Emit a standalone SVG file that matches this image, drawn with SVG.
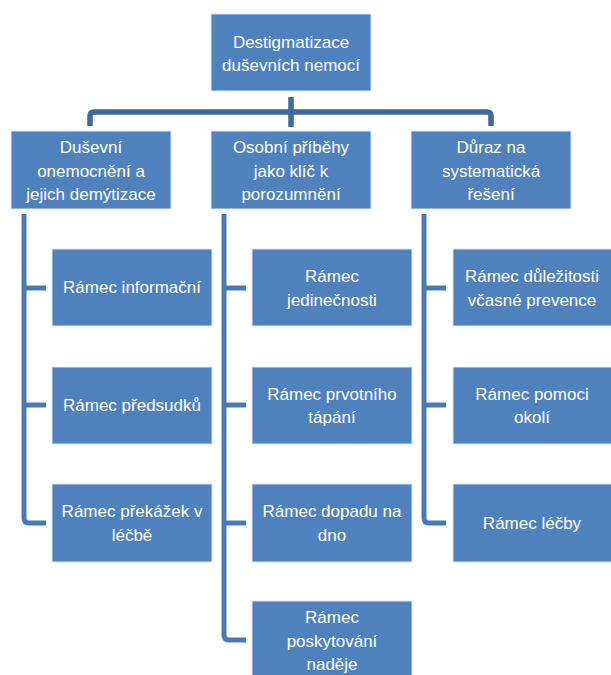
<svg xmlns="http://www.w3.org/2000/svg" width="611" height="675" viewBox="0 0 611 675">
<style>
.box{fill:#4F81BD;stroke:#DCE6F2;stroke-width:1}
.t{font-family:"Liberation Sans",Arial,sans-serif;font-size:17px;fill:#FFFFFF;text-anchor:middle}
.bus{fill:none;stroke:#3F6A9C;stroke-width:5.5;stroke-linejoin:round}
.sub{fill:none;stroke:#4A7AB4;stroke-width:5;stroke-linejoin:round}
</style>
<rect width="611" height="675" fill="#FFFFFF"/>
<g id="connectors">
<path class="bus" d="M291 97 V127"/>
<path class="bus" d="M90 126 V116 Q90 112 94 112 H487 Q491 112 491 116 V126"/>
<path class="sub" d="M24 214 V518 Q24 523 29 523 H46 M24 288 H46 M24 405 H46"/>
<path class="sub" d="M224 214 V635 Q224 640 229 640 H246 M224 288 H246 M224 405 H246 M224 523 H246"/>
<path class="sub" d="M424 214 V518 Q424 523 429 523 H446 M424 288 H446 M424 405 H446"/>
</g>
<g id="root"><rect class="box" x="211" y="14" width="160" height="77"/>
<text class="t" x="291" y="48">Destigmatizace</text><text class="t" x="291" y="71">duševních nemocí</text></g>
<g id="n1"><rect class="box" x="11" y="131" width="160" height="78"/>
<text class="t" x="91" y="153">Duševní</text><text class="t" x="91" y="176.5">onemocnění a</text><text class="t" x="91" y="200">jejich demýtizace</text></g>
<g id="n2"><rect class="box" x="211" y="131" width="160" height="78"/>
<text class="t" x="291" y="153">Osobní příběhy</text><text class="t" x="291" y="176.5">jako klíč k</text><text class="t" x="291" y="200">porozumnění</text></g>
<g id="n3"><rect class="box" x="411" y="131" width="160" height="78"/>
<text class="t" x="491" y="153">Důraz na</text><text class="t" x="491" y="176.5">systematická</text><text class="t" x="491" y="200">řešení</text></g>
<g id="n1a"><rect class="box" x="52" y="249" width="160" height="77"/><text class="t" x="132" y="293">Rámec informační</text></g>
<g id="n1b"><rect class="box" x="52" y="367" width="160" height="77"/><text class="t" x="132" y="410.5">Rámec předsudků</text></g>
<g id="n1c"><rect class="box" x="52" y="484" width="160" height="78"/><text class="t" x="132" y="517">Rámec překážek v</text><text class="t" x="132" y="540.5">léčbě</text></g>
<g id="n2a"><rect class="box" x="252" y="249" width="160" height="77"/><text class="t" x="332" y="282">Rámec</text><text class="t" x="332" y="305.5">jedinečnosti</text></g>
<g id="n2b"><rect class="box" x="252" y="367" width="160" height="77"/><text class="t" x="332" y="399.5">Rámec prvotního</text><text class="t" x="332" y="423">tápání</text></g>
<g id="n2c"><rect class="box" x="252" y="484" width="160" height="78"/><text class="t" x="332" y="517">Rámec dopadu na</text><text class="t" x="332" y="540.5">dno</text></g>
<g id="n2d"><rect class="box" x="252" y="601" width="160" height="78"/><text class="t" x="332" y="623">Rámec</text><text class="t" x="332" y="646.5">poskytování</text><text class="t" x="332" y="670">naděje</text></g>
<g id="n3a"><rect class="box" x="453" y="249" width="160" height="77"/><text class="t" x="532" y="282">Rámec důležitosti</text><text class="t" x="532" y="305.5">včasné prevence</text></g>
<g id="n3b"><rect class="box" x="453" y="367" width="160" height="77"/><text class="t" x="532" y="399.5">Rámec pomoci</text><text class="t" x="532" y="423">okolí</text></g>
<g id="n3c"><rect class="box" x="453" y="484" width="160" height="78"/><text class="t" x="532" y="528.5">Rámec léčby</text></g>
</svg>
